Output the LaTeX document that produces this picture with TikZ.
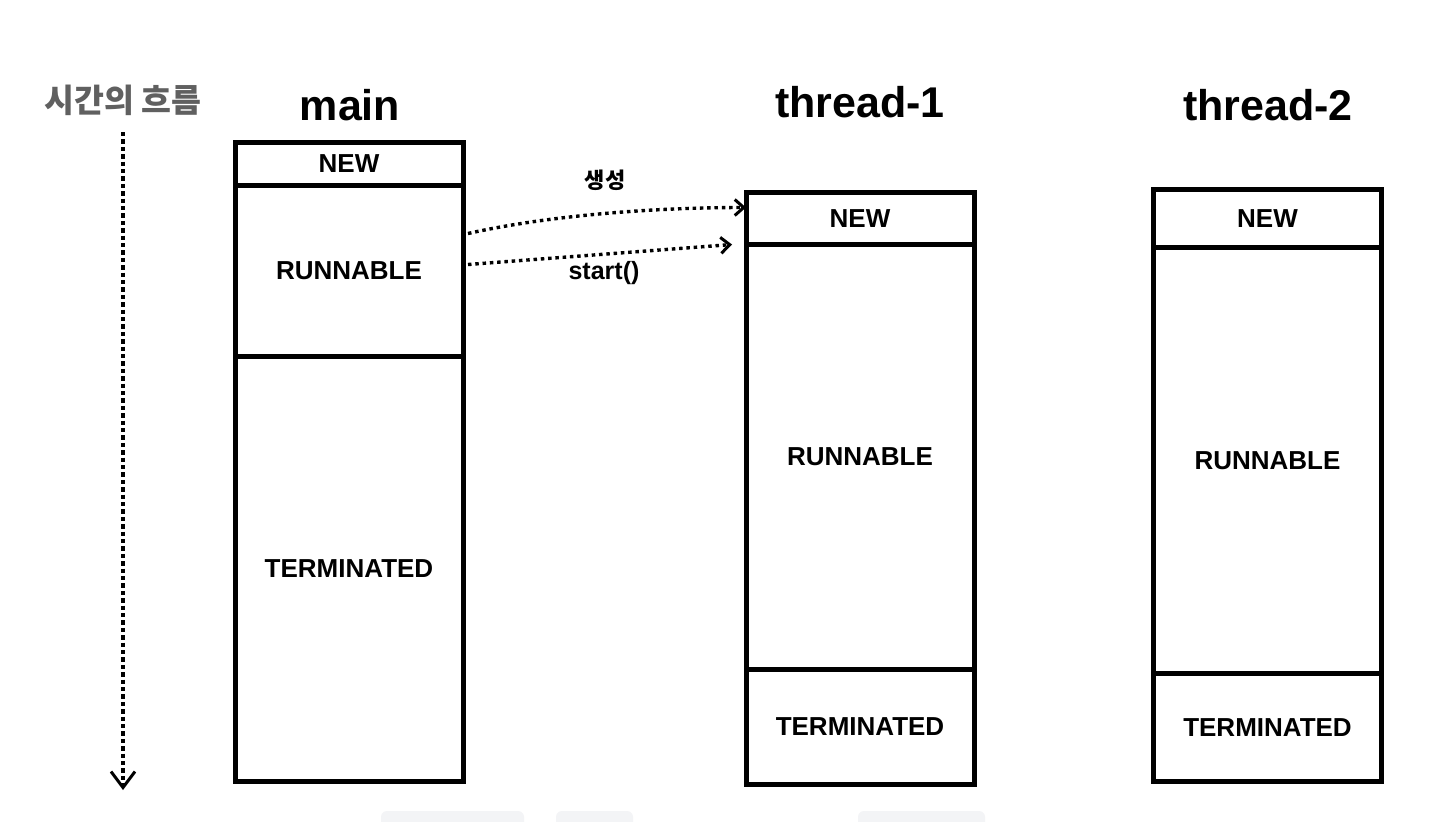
\documentclass[tikz,border=0pt]{standalone}
\usepackage{fontspec}
\setmainfont{Liberation Sans}
\newfontfamily\krfont{Noto Sans CJK KR}
\usetikzlibrary{positioning,matrix,arrows.meta}
\definecolor{flowgray}{HTML}{606060}
\definecolor{codebg}{HTML}{F3F4F6}
\tikzset{
  statecol/.style={matrix of nodes, line width=5pt, inner sep=0pt, outer sep=0pt,
    row sep=-\pgflinewidth, anchor=north west,
    nodes={draw, minimum width=228pt, inner sep=2pt, text depth=0pt,
      font=\fontsize{26}{28}\selectfont\bfseries}},
  title/.style={font=\fontsize{43}{46}\selectfont\bfseries, anchor=base},
  call/.style={line width=3.4pt, dash pattern=on 3.5pt off 3.8pt,
    -{Straight Barb[length=9pt,width=16pt,line width=3pt]}},
  timeline/.style={line width=4.6pt, dash pattern=on 4.4pt off 3pt,
    -{Straight Barb[length=16pt,width=24pt,line width=3pt]}},
}

\begin{document}
\begin{tikzpicture}[x=1pt,y=-1pt]
\useasboundingbox[fill=white] (0,0) rectangle (1438,822);

% time axis
\coordinate (t-top) at (123,132);
\coordinate (t-end) at (123,790);
\draw[timeline] (t-top) -- (t-end);
\node[text=flowgray, font=\krfont\fontsize{32.5}{34}\selectfont\bfseries] (flow) at (123,100) {시간의 흐름};

% thread columns
\matrix (main) [statecol,
    row 1/.style={nodes={minimum height=42.5pt}},
    row 2/.style={nodes={minimum height=171pt}},
    row 3/.style={nodes={minimum height=425pt}},
    ] at (232.5,140) {
    NEW\\ RUNNABLE\\ TERMINATED\\};

\matrix (t1) [statecol,
    row 1/.style={nodes={minimum height=52pt}},
    row 2/.style={nodes={minimum height=425pt}},
    row 3/.style={nodes={minimum height=115pt}},
    ] at (743.5,190) {
    NEW\\ RUNNABLE\\ TERMINATED\\};

\matrix (t2) [statecol,
    row 1/.style={nodes={minimum height=58.5pt}},
    row 2/.style={nodes={minimum height=426pt}},
    row 3/.style={nodes={minimum height=107.5pt}},
    ] at (1151,186.5) {
    NEW\\ RUNNABLE\\ TERMINATED\\};

\node[title] (main-title) at (350,120) {main};
\node[title] (t1-title) at (860,117) {thread-1};
\node[title] (t2-title) at (1268,120) {thread-2};

% calls from main
\draw[call] ([xshift=5pt,yshift=37pt]main-2-1.east)
    .. controls +(90,-20) and +(-80,0) .. ([yshift=11pt]t1-1-1.west);
\draw[call] ([xshift=5pt,yshift=6pt]main-2-1.east) -- ([xshift=-14pt]t1-1-1.south west);
\node[font=\krfont\fontsize{22}{24}\selectfont\bfseries] (create) at (605,180) {생성};
\node[font=\fontsize{25}{27}\selectfont\bfseries] (start) at (604,273) {start()};

% cut-off strip at the bottom
\fill[codebg, rounded corners=6pt] (381,811) rectangle (524,840);
\fill[codebg, rounded corners=6pt] (556,811) rectangle (633,840);
\fill[codebg, rounded corners=6pt] (858,811) rectangle (985,840);
\end{tikzpicture}
\end{document}
